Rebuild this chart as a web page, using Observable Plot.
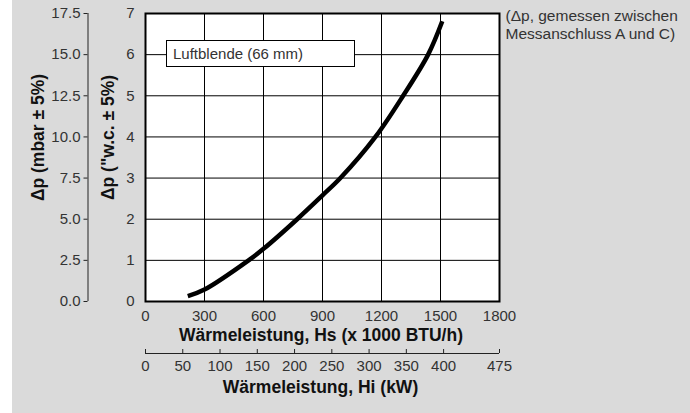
<!DOCTYPE html>
<html><head><meta charset="utf-8">
<script src="https://cdn.jsdelivr.net/npm/d3@7"></script>
<script src="https://cdn.jsdelivr.net/npm/@observablehq/plot@0.6"></script>
<style>
html,body{margin:0;padding:0;background:#fff;}
#wrap{position:absolute;left:12px;top:0;width:678px;height:413px;background:#dadada;overflow:hidden;}
#legend{position:absolute;left:154px;top:40px;width:189px;height:27px;box-sizing:border-box;border:1px solid #000;background:#fff;
  font:15px "Liberation Sans",Arial,sans-serif;color:#333;line-height:25px;padding-left:6px;white-space:nowrap;}
</style></head>
<body><div id="wrap"></div>
<script>
// Curve: Luftblende (66 mm)
const hsValues = [215, 300, 524, 600, 771, 900, 991, 1169, 1310, 1437, 1509];
const dpValues = [0.13, 0.29, 1.0, 1.28, 2.0, 2.58, 3.0, 4.0, 5.0, 6.0, 6.81];

// Tick labels
const hsTicks = [0, 300, 600, 900, 1200, 1500, 1800];
const wcTicks = [0, 1, 2, 3, 4, 5, 6, 7];
const mbarTicks = [0, 2.5, 5, 7.5, 10, 12.5, 15, 17.5];
const hiTicks = [0, 50, 100, 150, 200, 250, 300, 350, 400, 475];

// Texts
const legendLabel = "Luftblende (66 mm)";
const noteText = "(\u0394p, gemessen zwischen\nMessanschluss A und C)";
const xTitleHs = "W\u00e4rmeleistung, Hs (x 1000 BTU/h)";
const xTitleHi = "W\u00e4rmeleistung, Hi (kW)";
const yTitleMbar = "\u0394p (mbar \u00b1 5%)";
const yTitleWc = "\u0394p (\"w.c. \u00b1 5%)";

const mbarPerWc = 17.5 / 7;     // mbar axis aligned with w.c. axis
const hsPerKw = 1800 / 475;     // kW axis aligned with Hs axis

const curve = hsValues.map((h, i) => ({hs: h, dp: dpValues[i]}));
const font = "'Liberation Sans', Arial, Helvetica, sans-serif";
const titleStyle = {fontWeight: "bold", fontSize: 17.5, fill: "#111", textAnchor: "middle", lineAnchor: "middle"};

const chart = Plot.plot({
  width: 678, height: 413,
  marginLeft: 133, marginRight: 191, marginTop: 13, marginBottom: 112,
  style: {background: "transparent", fontFamily: font, fontSize: "15px", color: "#333", overflow: "visible"},
  x: {domain: [0, 1800]},
  y: {domain: [0, 7]},
  marks: [
    Plot.frame({fill: "#fff"}),
    Plot.gridX(hsTicks, {stroke: "#000", strokeOpacity: 1, strokeWidth: 1}),
    Plot.gridY(wcTicks, {stroke: "#000", strokeOpacity: 1, strokeWidth: 1}),
    Plot.frame({stroke: "#000", strokeWidth: 2}),
    Plot.line(curve, {x: "hs", y: "dp", stroke: "#000", strokeWidth: 4.5, curve: "catmull-rom", strokeLinecap: "butt"}),
    // Hs axis
    Plot.axisX(hsTicks, {tickSize: 0, tickPadding: 9, fontSize: 15, tickFormat: "d", label: null}),
    // Hi (kW) axis
    Plot.ruleY([0], {dy: 52, stroke: "#222", strokeWidth: 1}),
    Plot.axisX(hiTicks.map(k => k * hsPerKw), {tickSize: 4, dy: 48, tickPadding: 7, fontSize: 15, stroke: "#222",
      tickFormat: d => String(Math.round(d / hsPerKw)), label: null}),
    // w.c. axis
    Plot.axisY(wcTicks, {tickSize: 0, tickPadding: 11, fontSize: 15, tickFormat: "d", label: null}),
    // mbar axis
    Plot.ruleX([0], {dx: -57.5, stroke: "#222", strokeWidth: 1}),
    Plot.axisY(mbarTicks.map(m => m / mbarPerWc), {dx: -57.5, tickSize: 4, tickPadding: 3.5, fontSize: 15, stroke: "#222",
      tickFormat: d => (d * mbarPerWc).toFixed(1), label: null}),
    // titles
    Plot.text([yTitleMbar], {frameAnchor: "left", dx: -107.5, dy: -20, rotate: -90, ...titleStyle}),
    Plot.text([yTitleWc], {frameAnchor: "left", dx: -37.5, dy: -20, rotate: -90, ...titleStyle}),
    Plot.text([xTitleHs], {frameAnchor: "bottom", dx: -1.5, dy: 34, ...titleStyle}),
    Plot.text([xTitleHi], {frameAnchor: "bottom", dx: -2, dy: 86, ...titleStyle}),
    Plot.text([noteText], {frameAnchor: "top-right", textAnchor: "start", lineAnchor: "top", dx: 6, dy: -6, fontSize: 15.5, lineHeight: 1.2, fill: "#333"})
  ]
});

const wrap = document.getElementById("wrap");
wrap.appendChild(chart);
const legend = document.createElement("div");
legend.id = "legend";
legend.textContent = legendLabel;
wrap.appendChild(legend);
</script>
</body></html>
